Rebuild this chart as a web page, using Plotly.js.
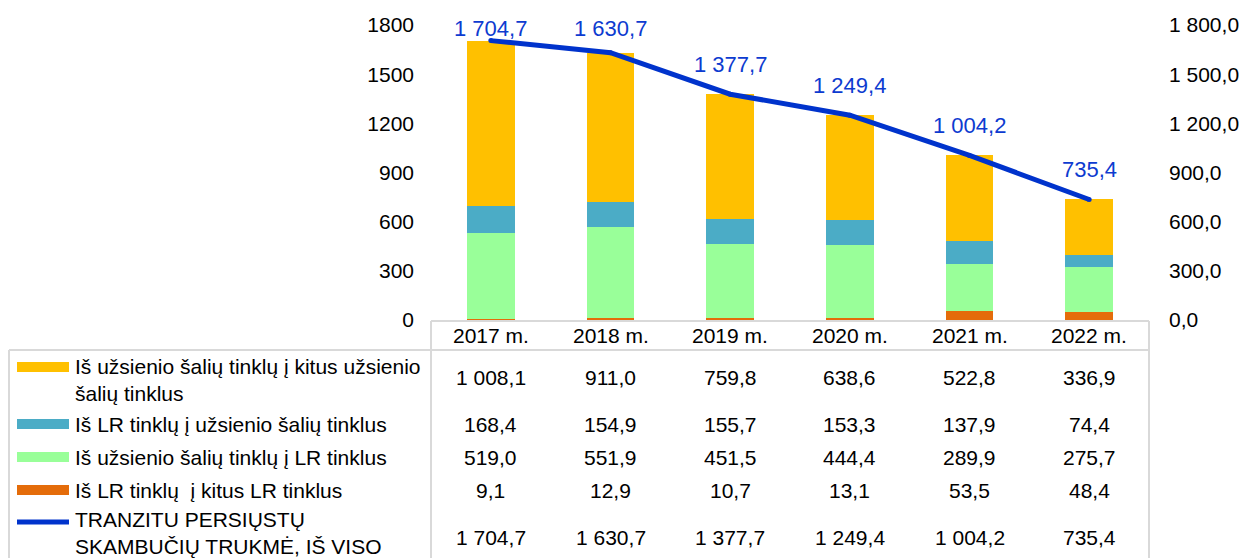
<!DOCTYPE html>
<html>
<head>
<meta charset="utf-8">
<script src="https://cdn.plot.ly/plotly-3.0.1.min.js"></script>
<style>
  html, body { margin: 0; padding: 0; background: #ffffff; }
  #chart { width: 1250px; height: 558px; }
</style>
</head>
<body>
<div id="chart"></div>
<script>
// ---------------- DATA ----------------
const categories = ['2017 m.', '2018 m.', '2019 m.', '2020 m.', '2021 m.', '2022 m.'];

const seriesNames = [
  'Iš užsienio šalių tinklų į kitus užsienio<br>šalių tinklus',
  'Iš LR tinklų į užsienio šalių tinklus',
  'Iš užsienio šalių tinklų į LR tinklus',
  'Iš LR tinklų  į kitus LR tinklus',
  'TRANZITU PERSIŲSTŲ<br>SKAMBUČIŲ TRUKMĖ, IŠ VISO'
];

const foreignToForeign = [1008.1, 911.0, 759.8, 638.6, 522.8, 336.9];
const lrToForeign      = [168.4, 154.9, 155.7, 153.3, 137.9, 74.4];
const foreignToLR      = [519.0, 551.9, 451.5, 444.4, 289.9, 275.7];
const lrToLR           = [9.1, 12.9, 10.7, 13.1, 53.5, 48.4];
const totalDuration    = [1704.7, 1630.7, 1377.7, 1249.4, 1004.2, 735.4];

const tickValues     = [0, 300, 600, 900, 1200, 1500, 1800];
const leftTickText   = ['0', '300', '600', '900', '1200', '1500', '1800'];
const rightTickText  = ['0,0', '300,0', '600,0', '900,0', '1 200,0', '1 500,0', '1 800,0'];

// ---------------- STYLE / LAYOUT ----------------
const W = 1250, H = 558;
const plotL = 431, plotR = 1149, plotT = 25, plotB = 320;
const pw = plotR - plotL, ph = plotB - plotT;
const yMax = 1800;
const FONT = 'Liberation Sans, Arial, sans-serif';
const TXT = 21;
const colors = { yellow: '#FFC000', blue: '#4BACC6', green: '#99FF99', orange: '#E46C0A', line: '#0033CC', label: '#0D3BD0' };
const gridColor = '#D9D9D9';

const px = x => (x - plotL) / pw;          // pixel x -> paper x
const py = y => (plotB - y) / ph;          // pixel y -> paper y

function fmt(v) {
  const s = v.toFixed(1);
  let [i, d] = s.split('.');
  i = i.replace(/\B(?=(\d{3})+(?!\d))/g, ' ');
  return i + ',' + d;
}

const barCommon = { type: 'bar', x: categories, hoverinfo: 'skip' };

const traces = [
  Object.assign({}, barCommon, { name: seriesNames[3], y: lrToLR, marker: { color: colors.orange, line: { width: 0 } } }),
  Object.assign({}, barCommon, { name: seriesNames[2], y: foreignToLR, marker: { color: colors.green, line: { width: 0 } } }),
  Object.assign({}, barCommon, { name: seriesNames[1], y: lrToForeign, marker: { color: colors.blue, line: { width: 0 } } }),
  Object.assign({}, barCommon, { name: seriesNames[0], y: foreignToForeign, marker: { color: colors.yellow, line: { width: 0 } } }),
  {
    type: 'scatter', mode: 'lines+markers', name: seriesNames[4],
    x: categories, y: totalDuration, yaxis: 'y2',
    line: { color: colors.line, width: 5 },
    marker: { color: colors.line, size: 5, line: { width: 0 } },
    cliponaxis: false,
    hoverinfo: 'skip'
  }
];

const annotations = [];
const shapes = [];

// line value labels, lifted above points but kept inside the top edge
totalDuration.forEach((v, i) => {
  const pointPx = plotT + (1 - v / yMax) * ph;
  const lift = Math.min(30, pointPx - 28);
  annotations.push({
    xref: 'x', yref: 'y2', x: categories[i], y: v, yshift: lift,
    text: fmt(v), showarrow: false, xanchor: 'center', yanchor: 'middle',
    font: { family: FONT, size: 22, color: colors.label }
  });
});

// header (category labels)
categories.forEach(c => {
  annotations.push({
    xref: 'x', yref: 'paper', x: c, y: py(335.5), text: c, showarrow: false,
    xanchor: 'center', yanchor: 'middle', font: { family: FONT, size: TXT, color: '#000' }
  });
});

// table rows
const rows = [
  { name: seriesNames[0], values: foreignToForeign, color: colors.yellow, keyY: 367, textY: 380, valY: 377, keyW: 10 },
  { name: seriesNames[1], values: lrToForeign, color: colors.blue, keyY: 424, textY: 424, valY: 424, keyW: 10 },
  { name: seriesNames[2], values: foreignToLR, color: colors.green, keyY: 457, textY: 457, valY: 457, keyW: 10 },
  { name: seriesNames[3], values: lrToLR, color: colors.orange, keyY: 490, textY: 490, valY: 490, keyW: 10 },
  { name: seriesNames[4], values: totalDuration, color: colors.line, keyY: 522, textY: 533, valY: 537, keyW: 5 }
];

rows.forEach(r => {
  shapes.push({
    type: 'line', xref: 'paper', yref: 'paper',
    x0: px(17), x1: px(69), y0: py(r.keyY), y1: py(r.keyY),
    line: { color: r.color, width: r.keyW }
  });
  annotations.push({
    xref: 'paper', yref: 'paper', x: px(73), y: py(r.textY), text: r.name,
    showarrow: false, xanchor: 'left', yanchor: 'middle', align: 'left',
    font: { family: FONT, size: TXT, color: '#000' }
  });
  r.values.forEach((v, i) => {
    annotations.push({
      xref: 'x', yref: 'paper', x: categories[i], y: py(r.valY), text: fmt(v),
      showarrow: false, xanchor: 'center', yanchor: 'middle',
      font: { family: FONT, size: TXT, color: '#000' }
    });
  });
});

// table grid lines
const gl = { color: gridColor, width: 2 };
shapes.push({ type: 'line', xref: 'paper', yref: 'paper', x0: px(431), x1: px(1149), y0: py(321), y1: py(321), line: gl });
shapes.push({ type: 'line', xref: 'paper', yref: 'paper', x0: px(9), x1: px(1149), y0: py(350), y1: py(350), line: gl });
shapes.push({ type: 'line', xref: 'paper', yref: 'paper', x0: px(431), x1: px(431), y0: py(321), y1: py(560), line: gl });
shapes.push({ type: 'line', xref: 'paper', yref: 'paper', x0: px(1149), x1: px(1149), y0: py(321), y1: py(560), line: gl });
shapes.push({ type: 'line', xref: 'paper', yref: 'paper', x0: px(9), x1: px(9), y0: py(350), y1: py(560), line: gl });

const layout = {
  width: W, height: H, autosize: false,
  margin: { l: plotL, r: W - plotR, t: plotT, b: H - plotB, pad: 0 },
  paper_bgcolor: '#ffffff', plot_bgcolor: '#ffffff',
  barmode: 'stack', bargap: 0.6,
  showlegend: false,
  font: { family: FONT, size: TXT, color: '#000' },
  xaxis: {
    type: 'category', showticklabels: false, showgrid: false, zeroline: false,
    showline: false, ticks: '', fixedrange: true
  },
  yaxis: {
    range: [0, yMax], tickvals: tickValues, ticktext: leftTickText,
    showgrid: false, zeroline: false, showline: false, ticks: '',
    ticklabelstandoff: 16, tickfont: { family: FONT, size: TXT, color: '#000' }, fixedrange: true
  },
  yaxis2: {
    overlaying: 'y', side: 'right', range: [0, yMax], tickvals: tickValues, ticktext: rightTickText,
    showgrid: false, zeroline: false, showline: false, ticks: '',
    ticklabelstandoff: 19, tickfont: { family: FONT, size: TXT, color: '#000' }, fixedrange: true
  },
  annotations: annotations,
  shapes: shapes
};

Plotly.newPlot('chart', traces, layout, { displayModeBar: false, staticPlot: true });
</script>
</body>
</html>
